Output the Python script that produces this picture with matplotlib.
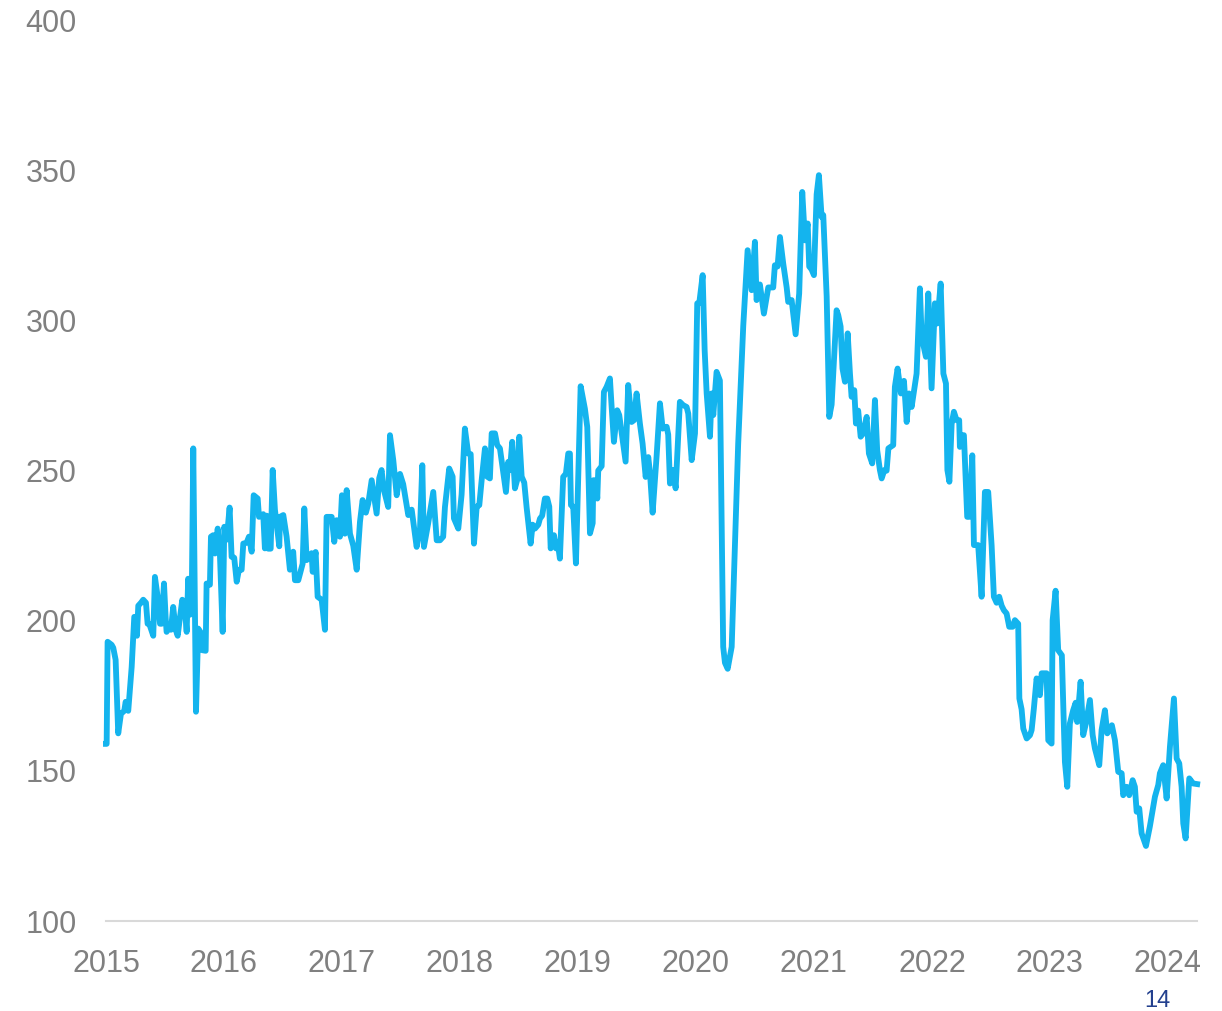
import matplotlib.pyplot as plt
import numpy as np

plt.rcParams['font.family'] = ['Liberation Sans', 'DejaVu Sans']

# годы от начала 2015 (доли года) и значения индекса
t = [0.000, 0.006, 0.014, 0.048, 0.062, 0.082, 0.104, 0.127, 0.155, 0.167, 0.189,
     0.218, 0.240, 0.252, 0.263, 0.274, 0.297, 0.316, 0.339, 0.353, 0.367, 0.401,
     0.415, 0.438, 0.458, 0.472, 0.492, 0.506, 0.514, 0.534, 0.551, 0.570, 0.591,
     0.608, 0.627, 0.647, 0.669, 0.684, 0.697, 0.712, 0.726, 0.740, 0.763, 0.782,
     0.805, 0.816, 0.845, 0.853, 0.881, 0.890, 0.909, 0.924, 0.947, 0.966, 0.989,
     1.003, 1.023, 1.048, 1.065, 1.087, 1.108, 1.127, 1.150, 1.164, 1.192, 1.212,
     1.235, 1.252, 1.286, 1.297, 1.333, 1.347, 1.362, 1.375, 1.396, 1.413, 1.432,
     1.469, 1.475, 1.503, 1.531, 1.559, 1.587, 1.602, 1.630, 1.667, 1.681, 1.701,
     1.743, 1.752, 1.777, 1.794, 1.828, 1.856, 1.870, 1.913, 1.935, 1.955, 1.983,
     2.000, 2.025, 2.040, 2.068, 2.096, 2.125, 2.153, 2.175, 2.203, 2.223, 2.252,
     2.294, 2.316, 2.336, 2.356, 2.392, 2.407, 2.435, 2.464, 2.492, 2.519, 2.562,
     2.591, 2.633, 2.661, 2.681, 2.695, 2.731, 2.774, 2.803, 2.831, 2.858, 2.873,
     2.909, 2.938, 2.949, 2.986, 3.014, 3.042, 3.070, 3.091, 3.119, 3.142, 3.164,
     3.184, 3.212, 3.231, 3.254, 3.269, 3.297, 3.316, 3.339, 3.390, 3.409, 3.424,
     3.443, 3.466, 3.486, 3.503, 3.523, 3.545, 3.565, 3.599, 3.616, 3.636, 3.664,
     3.678, 3.697, 3.720, 3.740, 3.757, 3.769, 3.797, 3.814, 3.828, 3.847, 3.875,
     3.898, 3.918, 3.932, 3.941, 3.960, 3.983, 4.023, 4.059, 4.079, 4.102, 4.125,
     4.130, 4.153, 4.164, 4.172, 4.201, 4.220, 4.243, 4.271, 4.286, 4.305, 4.333,
     4.350, 4.404, 4.426, 4.455, 4.475, 4.497, 4.525, 4.548, 4.574, 4.596, 4.610,
     4.633, 4.667, 4.695, 4.718, 4.752, 4.765, 4.780, 4.808, 4.828, 4.864, 4.892,
     4.921, 4.935, 4.964, 4.992, 5.011, 5.028, 5.057, 5.074, 5.091, 5.119, 5.133,
     5.147, 5.175, 5.203, 5.231, 5.246, 5.269, 5.303, 5.331, 5.358, 5.401, 5.438,
     5.472, 5.500, 5.514, 5.542, 5.576, 5.613, 5.655, 5.669, 5.692, 5.712, 5.740,
     5.769, 5.782, 5.811, 5.845, 5.875, 5.901, 5.924, 5.947, 5.960, 5.980, 6.000,
     6.023, 6.042, 6.065, 6.079, 6.108, 6.130, 6.150, 6.192, 6.206, 6.226, 6.242,
     6.263, 6.286, 6.305, 6.319, 6.342, 6.356, 6.375, 6.396, 6.418, 6.447, 6.466,
     6.494, 6.517, 6.536, 6.559, 6.574, 6.597, 6.616, 6.631, 6.672, 6.686, 6.709,
     6.737, 6.763, 6.786, 6.805, 6.828, 6.870, 6.898, 6.913, 6.949, 6.969, 6.997,
     7.025, 7.045, 7.074, 7.097, 7.119, 7.131, 7.148, 7.167, 7.186, 7.209, 7.231,
     7.237, 7.252, 7.271, 7.299, 7.316, 7.342, 7.356, 7.392, 7.421, 7.449, 7.477,
     7.506, 7.525, 7.548, 7.570, 7.591, 7.610, 7.633, 7.655, 7.684, 7.703, 7.731,
     7.741, 7.760, 7.774, 7.803, 7.831, 7.845, 7.864, 7.887, 7.915, 7.930, 7.972,
     7.986, 8.014, 8.023, 8.048, 8.070, 8.101, 8.127, 8.147, 8.169, 8.197, 8.218,
     8.231, 8.260, 8.282, 8.305, 8.339, 8.362, 8.381, 8.418, 8.438, 8.466, 8.486,
     8.525, 8.551, 8.579, 8.608, 8.621, 8.650, 8.672, 8.701, 8.720, 8.735, 8.757,
     8.777, 8.814, 8.847, 8.890, 8.918, 8.932, 8.960, 8.989, 9.017, 9.051, 9.074,
     9.096, 9.116, 9.130, 9.150, 9.181, 9.214, 9.248]

val = [159, 159, 193, 192, 191, 187, 162.5, 169, 170, 173, 170,
       184.6, 201.3, 201, 195, 205, 206, 207, 206, 199, 199, 195,
       214.6, 208, 199, 199, 212.4, 201, 196.3, 198, 197, 204.6, 197,
       195, 201, 207, 204, 196.3, 214, 202, 203, 257.4, 169.7, 197.4,
       196, 190.2, 190, 212.4, 212, 228, 228.5, 222.4, 230.7, 222, 196.3,
       231.3, 227, 237.7, 221.3, 221, 213, 217, 217, 225.7, 226, 228,
       223, 241.8, 240.7, 234.6, 235.5, 224.1, 235, 224, 224, 250.2, 237,
       224.8, 234.6, 235.2, 228, 217, 223, 213.5, 213.5, 219, 237.4, 220.2,
       222.5, 216.3, 222.9, 208, 207, 197, 234.6, 234.6, 226.3, 233.5, 228,
       241.8, 229, 243.5, 229, 225, 217, 233, 240.2, 236, 239, 246.8,
       235.7, 247.5, 250.2, 243.5, 237.9, 261.8, 253.5, 241.8, 248.9, 245.5, 235.2,
       237, 224.6, 230, 251.8, 224.6, 232.5, 242.9, 226.8, 226.8, 228, 237.9,
       250.7, 248, 234.1, 230.7, 242, 264, 255.7, 255.5, 225.7, 238, 238.5,
       246.8, 257.4, 248, 247.4, 262.4, 262.4, 258.5, 257.4, 242.9, 252.9, 250.2,
       259.6, 244.1, 247, 261.3, 248, 246, 237.8, 225.7, 232, 230.7, 232,
       234, 235, 240.7, 240.7, 238, 224.1, 228.5, 224.1, 226.3, 220.7, 247.9,
       249, 255.7, 255.7, 238.5, 238, 219.1, 278.1, 270.6, 264.5, 229.1, 232.5,
       246.8, 246.8, 240.7, 250, 251.5, 276.2, 277.9, 280.7, 271, 259.6, 270.1,
       268.5, 253, 278.5, 266.2, 266.8, 275.7, 265.7, 259, 247.9, 254.5, 249.5,
       236, 255, 272.4, 264, 264.6, 262, 245.7, 250.2, 244.1, 272.9, 271.8,
       271.2, 269, 253.5, 262.4, 305.7, 305.7, 315.1, 290, 275.7, 261.3, 275.7,
       268.5, 282.9, 280, 191.3, 186, 184, 191.3, 225.7, 258.9, 298.2, 323.4,
       310.1, 326.2, 306.8, 312, 302.3, 311, 311, 318.4, 318, 327.8, 318.9,
       311, 306.2, 306.8, 295.4, 309, 342.8, 326.7, 332.3, 318, 317, 315.1,
       342, 348.4, 334.5, 335.1, 308, 267.9, 272, 303.4, 301.8, 298, 284,
       279.6, 295.7, 282.5, 274.6, 276.8, 265.7, 270, 261.3, 262.4, 267.9, 255.7,
       252.4, 273.5, 256.8, 250.2, 247.4, 250.2, 250, 257.4, 258.5, 277.9, 284,
       275.7, 279.9, 266.2, 275.7, 271.2, 282.3, 310.7, 294.5, 287.9, 309, 277.4,
       305.7, 299, 312.3, 282.3, 279, 250.2, 246.3, 265.5, 269.6, 266.8, 266.8,
       257.9, 261.8, 261.8, 234.6, 234.6, 255.1, 225.2, 225.2, 208, 242.9, 242.9,
       225, 208, 206, 208, 205, 203.5, 202.4, 198, 198, 200.2, 199,
       174.1, 170.5, 164.1, 160.8, 161.9, 163.6, 170.8, 180.8, 175.2, 182.5, 182.5,
       160.2, 159.1, 200.2, 210, 190.2, 188.5, 153, 144.7, 165.8, 170.2, 172.7,
       166.3, 179.7, 161.9, 165.8, 173.6, 162, 157.5, 151.9, 163.6, 170.2, 162.5,
       165.2, 160.2, 149.7, 149.2, 141.9, 144.7, 141.9, 146.9, 144.7, 136.4, 137.5,
       129.2, 125, 131.5, 141.4, 145.3, 149.2, 151.9, 140.8, 158, 174.1, 154.1,
       152.5, 144.7, 132.5, 127.5, 147.5, 145.8, 145.6]

years = list(range(2015, 2025))
yticks = [100, 150, 200, 250, 300, 350, 400]

x = 2015 + np.array(t)

fig = plt.figure(figsize=(12.22, 10.11), dpi=100)
ax = fig.add_axes([0.0867, 0.089, 0.8928, 0.891])
ax.plot(x, val, color='#14B4EE', linewidth=4.2, solid_joinstyle='round', clip_on=False)

ax.set_xlim(2015, 2024.246)
ax.set_ylim(100, 400)
ax.set_xticks(years)
ax.set_yticks(yticks)
ax.tick_params(axis='both', length=0, labelsize=22, labelcolor='#808080')
ax.tick_params(axis='x', pad=20)
ax.tick_params(axis='y', pad=21)

for s in ['top', 'right', 'left']:
    ax.spines[s].set_visible(False)
ax.spines['bottom'].set_color('#d9d9d9')
ax.spines['bottom'].set_linewidth(1.5)
ax.spines['bottom'].set_zorder(0)

fig.text(1157 / 1222, 1 - 1001 / 1011, '14', fontsize=17, color='#23408e',
         ha='center', va='center')

plt.savefig('out.png', dpi=100)
